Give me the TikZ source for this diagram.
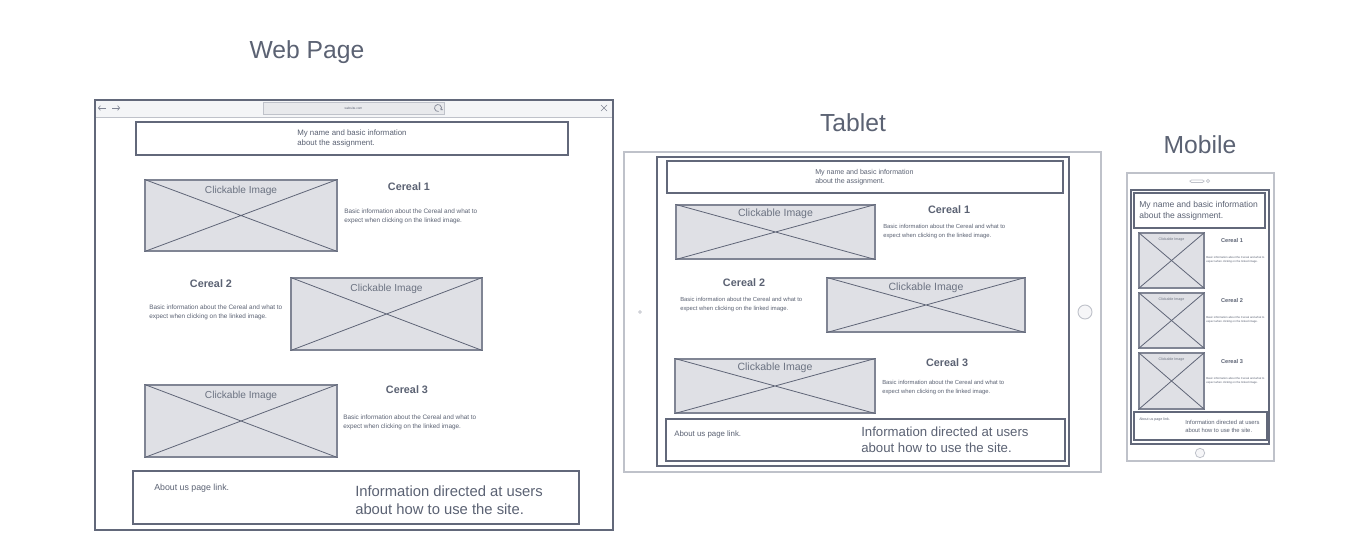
\documentclass[tikz,border=0pt]{standalone}
\usepackage{fontspec}
\setmainfont{Liberation Sans}
\usetikzlibrary{calc,arrows.meta}

\definecolor{ink}{HTML}{5B6273}
\definecolor{edge}{HTML}{62687A}
\definecolor{light}{HTML}{BFC2CA}
\definecolor{imgfill}{HTML}{DFE0E5}
\definecolor{imgedge}{HTML}{808594}
\definecolor{diagc}{HTML}{5F6577}
\definecolor{barfill}{HTML}{F4F5F7}
\definecolor{urlfill}{HTML}{E8E9EC}
\definecolor{btnfill}{HTML}{F6F6F8}

% font size / baseline skip in pt
\newcommand\fz[2]{\fontsize{#1pt}{#2pt}\selectfont}

% rectangle node from its corners (pixel grid)
\newcommand\boxnode[6][]{%
  \node[#1, minimum width={(#5-#3)*0.75pt}, minimum height={(#6-#4)*0.75pt},
        inner sep=0pt] (#2) at ({(#3+#5)/2},{(#4+#6)/2}) {};}

% image placeholder: crossed box with a caption near its top
\newcommand\placeholder[7]{%
  \boxnode[imgbox]{#1}{#2}{#3}{#4}{#5}
  \draw[diag] (#1.north west) -- (#1.south east) (#1.north east) -- (#1.south west);
  \node[txt, text=ink!90, font=\fz{#6}{#6}] (#1-lbl) at ($(#1.north)+(0,#7)$) {Clickable Image};}

\begin{document}
\begin{tikzpicture}[x=0.75pt,y=-0.75pt,
  darkframe/.style={draw=edge, line width=1.5pt},
  lightframe/.style={draw=light, line width=0.8pt},
  imgbox/.style={draw=imgedge, fill=imgfill, line width=0.9pt},
  diag/.style={draw=diagc, line width=0.6pt},
  icon/.style={draw=imgedge, line width=0.5pt},
  txt/.style={text=ink, inner sep=0pt},
  title/.style={txt, font=\fz{18.5}{22}},
  cereal/.style={txt, font=\bfseries\fz{#1}{#1}},
  para/.style={txt, anchor=west, align=left},
]
\path[use as bounding box, fill=white] (0,0) rectangle (1369,549);

%% ---------------- Web page ----------------
\node[title] (t-web) at (307,52) {Web Page};
\fill[barfill] (95,100) rectangle (613,117);
\draw[light, line width=0.6pt] (95,117) -- (613,117);
\boxnode[darkframe]{browser}{95}{100}{613}{530}
% browser controls
\draw[icon, -{Straight Barb[length=1.5pt,width=3.5pt]}] (106,108) -- (98,108);
\draw[icon, -{Straight Barb[length=1.5pt,width=3.5pt]}] (112,108) -- (120,108);
\draw[icon] (601,105) -- (607,111) (607,105) -- (601,111);
\boxnode[draw=light, fill=urlfill, line width=0.6pt]{url}{263}{102}{444}{114}
\node[txt, font=\fz{2.4}{3}] (url-t) at (url) {website.com};
\draw[icon, -{Straight Barb[length=1pt,width=2pt]}] (438,108) ++(80:3.5) arc[start angle=80, end angle=400, radius=3.5];

\boxnode[darkframe]{w-head}{136}{122}{568}{155}
\node[para, font=\fz{5.9}{7.5}] (w-head-t) at (297,138) {My name and basic information\\about the assignment.};

\placeholder{w-img1}{145}{180}{337}{251}{7.6}{11}
\node[cereal=8.1] (w-c1) at (409,187) {Cereal 1};
\node[para, font=\fz{4.8}{6.75}] (w-d1) at (344,216.5) {Basic information about the Cereal and what to\\expect when clicking on the linked image.};

\node[cereal=8.1] (w-c2) at (211,284) {Cereal 2};
\node[para, font=\fz{4.8}{6.75}] (w-d2) at (149,312) {Basic information about the Cereal and what to\\expect when clicking on the linked image.};
\placeholder{w-img2}{291}{278}{482}{350}{7.6}{11}

\placeholder{w-img3}{145}{385}{337}{457}{7.6}{11}
\node[cereal=8.1] (w-c3) at (407,390) {Cereal 3};
\node[para, font=\fz{4.8}{6.75}] (w-d3) at (343,422.5) {Basic information about the Cereal and what to\\expect when clicking on the linked image.};

\boxnode[darkframe]{w-foot}{133}{471}{579}{524}
\node[para, font=\fz{6.6}{8}] (w-about) at (154,488) {About us page link.};
\node[para, font=\fz{11.1}{13.5}] (w-info) at (355,500) {Information directed at users\\about how to use the site.};

%% ---------------- Tablet ----------------
\node[title] (t-tab) at (853,123) {Tablet};
\boxnode[lightframe]{tab}{624}{152}{1101}{472}
\boxnode[darkframe]{tab-screen}{657}{157}{1069}{466}
\node[circle, draw=light, line width=0.5pt, inner sep=0pt, minimum size=2pt] (tab-cam) at (640,312) {};
\node[circle, draw=light, fill=btnfill, line width=0.7pt, inner sep=0pt, minimum size=10.5pt] (tab-home) at (1085,312) {};

\boxnode[darkframe]{t-head}{667}{161}{1063}{193}
\node[para, font=\fz{5.3}{6.75}] (t-head-t) at (815,177.5) {My name and basic information\\about the assignment.};

\placeholder{t-img1}{676}{205}{875}{259}{7.9}{9}
\node[cereal=8.1] (t-c1) at (949,210) {Cereal 1};
\node[para, font=\fz{4.4}{6.75}] (t-d1) at (883,231.5) {Basic information about the Cereal and what to\\expect when clicking on the linked image.};

\node[cereal=8.1] (t-c2) at (744,283) {Cereal 2};
\node[para, font=\fz{4.4}{6.75}] (t-d2) at (680,304) {Basic information about the Cereal and what to\\expect when clicking on the linked image.};
\placeholder{t-img2}{827}{278}{1025}{332}{7.9}{10}

\placeholder{t-img3}{675}{359}{875}{413}{7.9}{9}
\node[cereal=8.1] (t-c3) at (947,363) {Cereal 3};
\node[para, font=\fz{4.4}{6.75}] (t-d3) at (882,387.5) {Basic information about the Cereal and what to\\expect when clicking on the linked image.};

\boxnode[darkframe]{t-foot}{666}{419}{1065}{461}
\node[para, font=\fz{5.9}{7}] (t-about) at (674,434) {About us page link.};
\node[para, font=\fz{9.9}{12}] (t-info) at (861,440) {Information directed at users\\about how to use the site.};

%% ---------------- Mobile ----------------
\node[title] (t-mob) at (1200,145) {Mobile};
\boxnode[lightframe]{mob}{1127}{173}{1274}{461}
\boxnode[draw=light, line width=0.5pt, rounded corners=1pt]{mob-spk}{1190}{180}{1204}{182.5}
\node[circle, draw=light, line width=0.5pt, inner sep=0pt, minimum size=2.5pt] (mob-cam) at (1208,181) {};
\node[circle, draw=light, fill=btnfill, line width=0.6pt, inner sep=0pt, minimum size=7pt] (mob-home) at (1200,453) {};
\boxnode[darkframe]{mob-screen}{1131}{190}{1269}{444}

\boxnode[darkframe]{m-head}{1134}{193}{1265}{228}
\node[para, font=\fz{6.4}{8.25}] (m-head-t) at (1139,210.5) {My name and basic information\\about the assignment.};

\placeholder{m-img1}{1139}{233}{1204}{288}{2.7}{7}
\node[cereal=4.2] (m-c1) at (1232,240) {Cereal 1};
\node[para, font=\fz{2.1}{2.8}] (m-d1) at (1206,259.5) {Basic information about the Cereal and what to\\expect when clicking on the linked image.};

\placeholder{m-img2}{1139}{293}{1204}{348}{2.7}{7}
\node[cereal=4.2] (m-c2) at (1232,300) {Cereal 2};
\node[para, font=\fz{2.1}{2.8}] (m-d2) at (1206,319.5) {Basic information about the Cereal and what to\\expect when clicking on the linked image.};

\placeholder{m-img3}{1139}{353}{1204}{409}{2.7}{7}
\node[cereal=4.2] (m-c3) at (1232,361) {Cereal 3};
\node[para, font=\fz{2.1}{2.8}] (m-d3) at (1206,380.5) {Basic information about the Cereal and what to\\expect when clicking on the linked image.};

\boxnode[darkframe]{m-foot}{1134}{412}{1267}{440}
\node[para, font=\fz{2.7}{3}] (m-about) at (1139,420) {About us page link.};
\node[para, font=\fz{4.4}{6}] (m-info) at (1185,426) {Information directed at users\\about how to use the site.};
\end{tikzpicture}
\end{document}
